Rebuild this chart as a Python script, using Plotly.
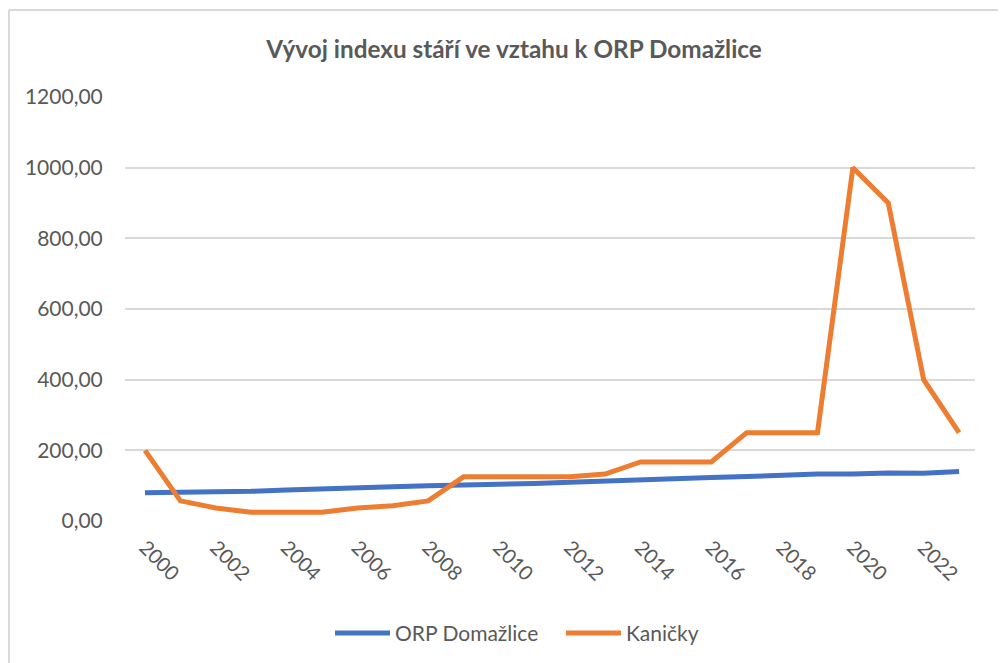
import plotly.graph_objects as go

years = list(range(2000, 2024))
orp_domazlice = [80, 81, 83, 84, 88, 92, 95, 97, 100, 101, 103, 106, 110, 114, 118, 120, 123, 126, 130, 133, 133, 136, 135, 140]
kanicky = [200, 57, 37, 25, 25, 25, 37, 43, 57, 125, 125, 125, 125, 133, 167, 167, 167, 250, 250, 250, 1000, 900, 400, 250]
y_ticks = [0, 200, 400, 600, 800, 1000, 1200]

FONT = "Lato"
GRAY = "#595959"

fig = go.Figure()
fig.add_trace(go.Scatter(x=years, y=orp_domazlice, mode="lines", name="ORP Domažlice",
                         line=dict(color="#4472C4", width=5)))
fig.add_trace(go.Scatter(x=years, y=kanicky, mode="lines", name="Kaničky",
                         line=dict(color="#ED7D31", width=5)))

border = "#D9D9D9"
fig.add_shape(type="line", xref="paper", yref="paper", x0=-0.1365, x1=-0.1365, y0=-0.4, y1=1.2052,
              line=dict(color=border, width=2))
fig.add_shape(type="line", xref="paper", yref="paper", x0=-0.1365, x1=1.06, y0=1.2052, y1=1.2052,
              line=dict(color=border, width=2))

fig.update_layout(
    width=1006, height=663,
    margin=dict(l=117, r=39, t=89, b=150),
    paper_bgcolor="white", plot_bgcolor="white",
    separators=", ",
    font=dict(family=FONT, color=GRAY, size=20),
    title=dict(text="<b>Vývoj indexu stáří ve vztahu k ORP Domažlice</b>", x=0.503, xanchor="center",
               y=0.937, yanchor="middle", font=dict(family=FONT, size=24.3, color=GRAY)),
    xaxis=dict(range=[1999.435, 2023.45], tickmode="array", tickvals=list(range(2000, 2024, 2)),
               tickangle=45, showgrid=False, zeroline=False, showline=False,
               ticks="outside", ticklen=6, tickcolor="rgba(0,0,0,0)",
               tickfont=dict(family=FONT, size=20, color=GRAY)),
    yaxis=dict(range=[0, 1200], tickmode="array", tickvals=y_ticks, tickformat=".2f",
               showgrid=True, gridcolor="#D9D9D9", gridwidth=1.5, zeroline=False, showline=False,
               ticks="outside", ticklen=17, tickcolor="rgba(0,0,0,0)",
               tickfont=dict(family=FONT, size=21, color=GRAY)),
    legend=dict(orientation="h", x=0.2412, xanchor="left", y=-0.265, yanchor="middle",
                font=dict(family=FONT, size=21, color=GRAY), itemwidth=55,
                entrywidth=161, entrywidthmode="pixels"),
    showlegend=True,
)

fig.write_html("out.html")
